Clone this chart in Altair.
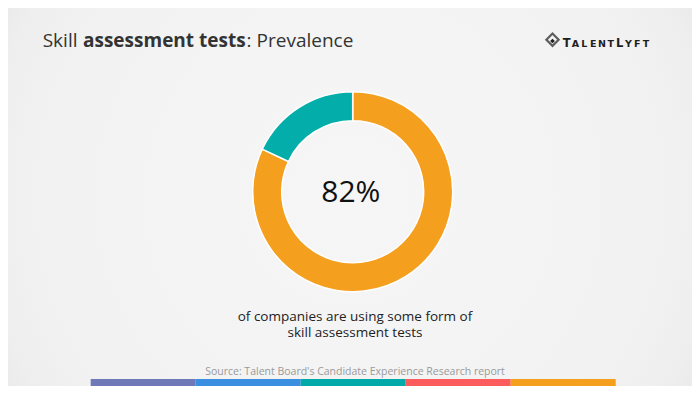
import altair as alt
import pandas as pd

# ---- data ----
categories = ["Using skill assessment tests", "Not using"]
values = [82, 18]
slice_colors = ["#f59f1f", "#03aeaa"]
center_label = ["82%"]
caption_lines = ["of companies are using some form of", "skill assessment tests"]
title_parts = ["Skill ", "assessment tests", ": Prevalence"]
source_text = ["Source: Talent Board's Candidate Experience Research report"]
bar_segments = ["s1", "s2", "s3", "s4", "s5"]
bar_colors = ["#6f79b8", "#3a8fe0", "#00aaa8", "#fc5c5b", "#f59f1f"]
logo_letters = list("TALENTLYFT")
logo_big = [True, False, False, False, False, False, True, False, False, False]

W, H = 684, 378

donut_df = pd.DataFrame({"cat": categories, "val": values, "order": list(range(len(values)))})
bars_df = pd.DataFrame({"seg": bar_segments})
logo_df = pd.DataFrame({"ch": logo_letters, "i": list(range(len(logo_letters))), "big": logo_big})

base_font = "Open Sans"

bg = alt.Chart(pd.DataFrame({"a": [0]})).mark_rect(
    color=alt.Gradient(
        gradient="radial", x1=0.5, y1=0.5, r1=0, x2=0.5, y2=0.5, r2=0.75,
        stops=[
            alt.GradientStop(offset=0, color="#f6f6f6"),
            alt.GradientStop(offset=0.6, color="#f2f2f2"),
            alt.GradientStop(offset=0.72, color="#eeeeee"),
            alt.GradientStop(offset=1, color="#d9d9d9"),
        ],
    )
).encode(x=alt.value(0), x2=alt.value(W), y=alt.value(0), y2=alt.value(H))

donut = alt.Chart(donut_df).mark_arc(
    radius=100, radius2=71, stroke="white", strokeWidth=1.5
).encode(
    theta=alt.Theta("val:Q", stack=True),
    order=alt.Order("order:Q"),
    color=alt.Color("cat:N", scale=alt.Scale(domain=categories, range=slice_colors), legend=None),
    x=alt.value(344.7),
    y=alt.value(183.7),
)

center_txt = alt.Chart(pd.DataFrame({"t": center_label})).mark_text(
    font=base_font, fontSize=30, color="#111111", align="center", baseline="alphabetic"
).encode(text="t:N", x=alt.value(342.8), y=alt.value(194.3))

cap1 = alt.Chart(pd.DataFrame({"t": [caption_lines[0]]})).mark_text(
    font=base_font, fontSize=13.5, color="#222222", align="center", baseline="alphabetic"
).encode(text="t:N", x=alt.value(347), y=alt.value(312.5))
cap2 = alt.Chart(pd.DataFrame({"t": [caption_lines[1]]})).mark_text(
    font=base_font, fontSize=13.5, color="#222222", align="center", baseline="alphabetic"
).encode(text="t:N", x=alt.value(347), y=alt.value(329))

t1 = alt.Chart(pd.DataFrame({"t": [title_parts[0]]})).mark_text(
    font=base_font, fontSize=19, color="#333333", align="left", baseline="alphabetic"
).encode(text="t:N", x=alt.value(34.7), y=alt.value(39.3))
t2 = alt.Chart(pd.DataFrame({"t": [title_parts[1]]})).mark_text(
    font=base_font, fontSize=19, fontWeight="bold", color="#333333", align="left", baseline="alphabetic"
).encode(text="t:N", x=alt.value(75), y=alt.value(39.3))
t3 = alt.Chart(pd.DataFrame({"t": [title_parts[2]]})).mark_text(
    font=base_font, fontSize=19, color="#333333", align="left", baseline="alphabetic"
).encode(text="t:N", x=alt.value(238.6), y=alt.value(39.3))

src = alt.Chart(pd.DataFrame({"t": source_text})).mark_text(
    font=base_font, fontSize=10.5, color="#9a9a9a", align="center", baseline="alphabetic"
).encode(text="t:N", x=alt.value(347), y=alt.value(367))

bars = alt.Chart(bars_df).mark_rect().encode(
    x=alt.X("seg:N", scale=alt.Scale(domain=bar_segments, range=[82.7, 607.7], paddingInner=0, paddingOuter=0), axis=None),
    y=alt.value(371),
    y2=alt.value(H),
    color=alt.Color("seg:N", scale=alt.Scale(domain=bar_segments, range=bar_colors), legend=None),
)

logo_text = alt.Chart(logo_df).mark_text(
    font="DejaVu Sans", fontWeight="bold", color="#1e1e1e", align="center", baseline="alphabetic"
).encode(
    x=alt.X("i:Q", scale=alt.Scale(domain=[0, 9], range=[558.7, 638]), axis=None),
    y=alt.value(38.7),
    text="ch:N",
    size=alt.Size("big:N", scale=alt.Scale(domain=[True, False], range=[11.5, 9.5]), legend=None),
)

logo_icon_outer = alt.Chart(pd.DataFrame({"a": [0]})).mark_point(
    shape="diamond", size=150, filled=False, stroke="#1e1e1e", strokeWidth=2.2
).encode(x=alt.value(544.5), y=alt.value(31.7))
logo_icon_inner = alt.Chart(pd.DataFrame({"a": [0]})).mark_point(
    shape="diamond", size=22, filled=True, color="#1e1e1e", opacity=1
).encode(x=alt.value(544.5), y=alt.value(33))

chart = alt.layer(
    bg, donut, center_txt, cap1, cap2, t1, t2, t3, src, bars, logo_text, logo_icon_outer, logo_icon_inner
).resolve_scale(
    x="independent", color="independent", size="independent"
).properties(
    width=W, height=H, padding=0, autosize=alt.AutoSizeParams(type="none"), background="#f3f3f3"
).configure_view(stroke=None)

chart.save("out.html", embed_options={"renderer": "svg", "actions": False})
